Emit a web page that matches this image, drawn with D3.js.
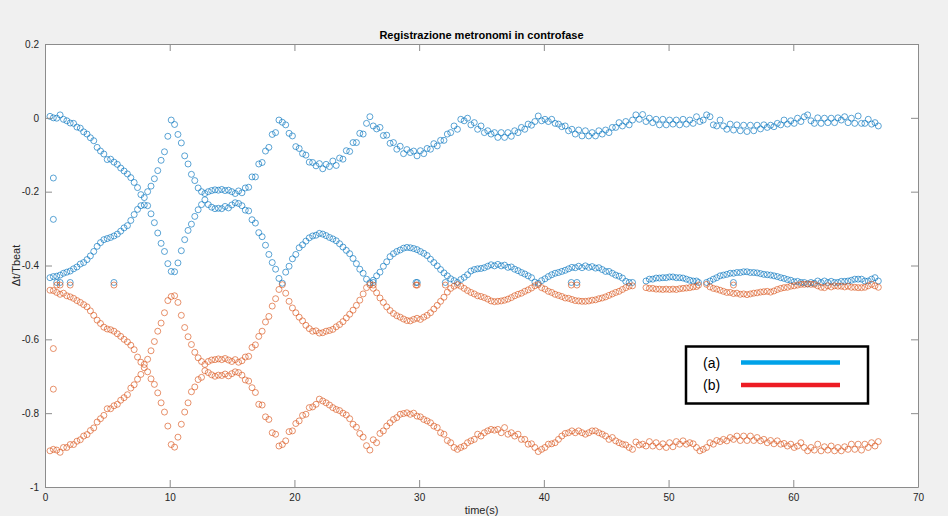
<!DOCTYPE html>
<html><head><meta charset="utf-8">
<script src="https://cdn.jsdelivr.net/npm/d3@7"></script>
<style>
body{margin:0;background:#f0f0f0;}
svg text{font-family:"Liberation Sans",Arial,Helvetica,sans-serif;}
</style>
</head><body>
<svg id="chart" width="948" height="516"></svg>
<script>
// ---- DATA ----
const chartTitle = "Registrazione metronomi in controfase";
const xLabel = "time(s)";
const yLabel = "\u0394t/Tbeat";
const xTicks = [0,10,20,30,40,50,60,70];
const yTicks = [0.2,0,-0.2,-0.4,-0.6,-0.8,-1];
const yTickLabels = ["0.2","0","-0.2","-0.4","-0.6","-0.8","-1"];
const legendLabels = ["(a)","(b)"];

const time = [
0.40,0.67,0.94,1.21,1.48,1.75,2.02,2.29,2.56,2.83,
3.10,3.37,3.64,3.91,4.18,4.45,4.72,4.99,5.26,5.53,
5.80,6.07,6.34,6.61,6.88,7.15,7.42,7.69,7.96,8.23,
8.50,8.77,9.04,9.31,9.58,9.85,10.12,10.39,10.66,10.93,
11.20,11.47,11.74,12.01,12.28,12.55,12.82,13.09,13.36,13.63,
13.90,14.17,14.44,14.71,14.98,15.25,15.52,15.79,16.06,16.33,
16.60,16.87,17.14,17.41,17.68,17.95,18.22,18.49,18.76,19.03,
19.30,19.57,19.84,20.11,20.38,20.65,20.92,21.19,21.46,21.73,
22.00,22.27,22.54,22.81,23.08,23.35,23.62,23.89,24.16,24.43,
24.70,24.97,25.24,25.51,25.78,26.05,26.32,26.59,26.86,27.13,
27.40,27.67,27.94,28.21,28.48,28.75,29.02,29.29,29.56,29.83,
30.10,30.37,30.64,30.91,31.18,31.45,31.72,31.99,32.26,32.53,
32.80,33.07,33.34,33.61,33.88,34.15,34.42,34.69,34.96,35.23,
35.50,35.77,36.04,36.31,36.58,36.85,37.12,37.39,37.66,37.93,
38.20,38.47,38.74,39.01,39.28,39.55,39.82,40.09,40.36,40.63,
40.90,41.17,41.44,41.71,41.98,42.25,42.52,42.79,43.06,43.33,
43.60,43.87,44.14,44.41,44.68,44.95,45.22,45.49,45.76,46.03,
46.30,46.57,46.84,47.11,47.38,47.65,47.92,48.19,48.46,48.73,
49.00,49.27,49.54,49.81,50.08,50.35,50.62,50.89,51.16,51.43,
51.70,51.97,52.24,52.51,52.78,53.05,53.32,53.59,53.86,54.13,
54.40,54.67,54.94,55.21,55.48,55.75,56.02,56.29,56.56,56.83,
57.10,57.37,57.64,57.91,58.18,58.45,58.72,58.99,59.26,59.53,
59.80,60.07,60.34,60.61,60.88,61.15,61.42,61.69,61.96,62.23,
62.50,62.77,63.04,63.31,63.58,63.85,64.12,64.39,64.66,64.93,
65.20,65.47,65.74,66.01,66.28,66.55,66.82];

// metronome (a), upper track
const aUpper = [
0.004,0.000,-0.001,0.008,-0.004,-0.008,-0.014,-0.015,-0.025,-0.028,
-0.038,-0.044,-0.054,-0.062,-0.080,-0.090,-0.098,-0.113,-0.112,-0.120,
-0.126,-0.136,-0.144,-0.152,-0.162,-0.175,-0.189,-0.208,-0.216,-0.200,
-0.185,-0.165,-0.143,-0.115,-0.092,-0.050,-0.006,-0.018,-0.045,-0.068,
-0.103,-0.125,-0.153,-0.170,-0.190,-0.200,-0.205,-0.200,-0.197,-0.195,
-0.196,-0.194,-0.197,-0.196,-0.200,-0.205,-0.198,-0.203,-0.190,-0.188,
-0.160,-0.160,-0.125,-0.121,-0.090,-0.080,-0.045,-0.040,-0.006,-0.012,
-0.019,-0.042,-0.049,-0.078,-0.083,-0.097,-0.101,-0.120,-0.121,-0.130,
-0.124,-0.138,-0.126,-0.132,-0.117,-0.129,-0.109,-0.112,-0.089,-0.091,
-0.067,-0.067,-0.042,-0.044,-0.015,0.003,-0.022,-0.030,-0.026,-0.048,
-0.047,-0.069,-0.067,-0.085,-0.077,-0.097,-0.086,-0.094,-0.090,-0.103,
-0.089,-0.097,-0.083,-0.085,-0.070,-0.076,-0.061,-0.061,-0.044,-0.040,
-0.022,-0.031,-0.004,-0.008,-0.001,-0.019,-0.013,-0.031,-0.022,-0.040,
-0.035,-0.044,-0.040,-0.053,-0.040,-0.053,-0.040,-0.050,-0.035,-0.040,
-0.026,-0.031,-0.017,-0.020,-0.010,0.005,-0.008,-0.004,-0.010,-0.004,
-0.015,-0.017,-0.024,-0.022,-0.035,-0.031,-0.044,-0.033,-0.049,-0.035,
-0.049,-0.040,-0.049,-0.035,-0.044,-0.033,-0.040,-0.026,-0.026,-0.013,
-0.022,-0.010,-0.019,-0.006,0.008,-0.004,0.009,-0.010,-0.001,-0.013,
-0.004,-0.019,-0.004,-0.019,-0.006,-0.017,-0.006,-0.019,-0.004,-0.017,
-0.006,-0.015,0.003,-0.010,-0.006,0.008,0.003,-0.019,-0.022,-0.006,
-0.022,-0.031,-0.017,-0.033,-0.019,-0.035,-0.020,-0.037,-0.020,-0.035,
-0.020,-0.030,-0.019,-0.026,-0.020,-0.024,-0.015,-0.019,-0.006,-0.017,
-0.008,-0.015,-0.001,-0.010,0.003,0.008,-0.008,-0.015,0.000,-0.015,
-0.001,-0.013,-0.001,-0.013,0.000,-0.006,0.003,-0.013,-0.001,-0.015,
0.005,-0.015,-0.015,-0.004,-0.017,-0.013,-0.022];

// metronome (a), lower track
const aLower = [
-0.433,-0.430,-0.429,-0.426,-0.421,-0.418,-0.415,-0.409,-0.404,-0.396,
-0.392,-0.384,-0.374,-0.362,-0.348,-0.338,-0.330,-0.327,-0.324,-0.320,
-0.315,-0.307,-0.298,-0.292,-0.278,-0.262,-0.248,-0.238,-0.236,-0.238,
-0.260,-0.284,-0.312,-0.340,-0.362,-0.395,-0.416,-0.417,-0.393,-0.360,
-0.330,-0.305,-0.288,-0.267,-0.249,-0.235,-0.222,-0.235,-0.242,-0.246,
-0.245,-0.246,-0.240,-0.244,-0.236,-0.230,-0.232,-0.238,-0.250,-0.252,
-0.276,-0.285,-0.311,-0.322,-0.345,-0.370,-0.392,-0.410,-0.435,-0.448,
-0.418,-0.402,-0.382,-0.370,-0.352,-0.344,-0.334,-0.325,-0.320,-0.318,
-0.313,-0.315,-0.319,-0.324,-0.328,-0.333,-0.341,-0.350,-0.359,-0.368,
-0.381,-0.395,-0.410,-0.421,-0.437,-0.447,-0.440,-0.428,-0.418,-0.402,
-0.390,-0.376,-0.368,-0.362,-0.358,-0.353,-0.351,-0.352,-0.354,-0.357,
-0.362,-0.367,-0.373,-0.383,-0.392,-0.401,-0.411,-0.420,-0.428,-0.436,
-0.441,-0.446,-0.438,-0.432,-0.425,-0.415,-0.411,-0.409,-0.408,-0.406,
-0.402,-0.398,-0.401,-0.397,-0.401,-0.399,-0.405,-0.404,-0.410,-0.414,
-0.419,-0.423,-0.428,-0.433,-0.445,-0.448,-0.441,-0.436,-0.430,-0.425,
-0.421,-0.419,-0.416,-0.413,-0.409,-0.405,-0.406,-0.402,-0.406,-0.401,
-0.405,-0.403,-0.407,-0.406,-0.411,-0.416,-0.416,-0.421,-0.426,-0.429,
-0.434,-0.443,-0.446,-0.446,null,null,null,-0.442,-0.437,-0.437,
-0.434,-0.434,-0.433,-0.433,-0.431,-0.431,-0.433,-0.433,-0.434,-0.437,
-0.440,-0.442,-0.442,null,null,-0.446,-0.442,-0.437,-0.433,-0.428,
-0.426,-0.424,-0.421,-0.421,-0.419,-0.419,-0.417,-0.417,-0.419,-0.419,
-0.420,-0.422,-0.424,-0.425,-0.426,-0.428,-0.430,-0.433,-0.435,-0.438,
-0.440,-0.444,-0.443,-0.446,-0.446,-0.450,-0.446,-0.448,-0.442,-0.446,
-0.442,-0.446,-0.443,-0.446,-0.446,-0.443,-0.443,-0.442,-0.440,-0.437,
-0.437,-0.437,-0.442,-0.442,-0.437,-0.433,-0.442];

// metronome (b), upper track
const bUpper = [
-0.467,-0.468,-0.473,-0.478,-0.475,-0.482,-0.485,-0.489,-0.495,-0.500,
-0.506,-0.512,-0.523,-0.535,-0.548,-0.557,-0.567,-0.572,-0.574,-0.578,
-0.585,-0.592,-0.600,-0.607,-0.616,-0.628,-0.648,-0.662,-0.668,-0.654,
-0.631,-0.606,-0.578,-0.556,-0.528,-0.495,-0.484,-0.482,-0.500,-0.535,
-0.568,-0.593,-0.614,-0.635,-0.650,-0.660,-0.668,-0.660,-0.656,-0.655,
-0.653,-0.655,-0.652,-0.656,-0.660,-0.655,-0.662,-0.658,-0.648,-0.646,
-0.622,-0.615,-0.592,-0.578,-0.553,-0.538,-0.510,-0.490,-0.465,-0.452,
-0.475,-0.497,-0.515,-0.528,-0.540,-0.550,-0.562,-0.571,-0.578,-0.577,
-0.583,-0.582,-0.578,-0.576,-0.573,-0.566,-0.560,-0.552,-0.542,-0.532,
-0.521,-0.508,-0.494,-0.477,-0.460,-0.452,-0.462,-0.474,-0.488,-0.500,
-0.512,-0.522,-0.530,-0.536,-0.540,-0.545,-0.549,-0.550,-0.546,-0.543,
-0.546,-0.540,-0.535,-0.528,-0.518,-0.508,-0.497,-0.486,-0.472,-0.462,
-0.456,-0.452,-0.456,-0.462,-0.468,-0.473,-0.477,-0.482,-0.484,-0.487,
-0.491,-0.496,-0.498,-0.497,-0.496,-0.494,-0.491,-0.487,-0.482,-0.478,
-0.475,-0.470,-0.466,-0.461,-0.455,-0.452,-0.460,-0.464,-0.470,-0.473,
-0.478,-0.481,-0.484,-0.488,-0.489,-0.492,-0.495,-0.496,-0.497,-0.497,
-0.496,-0.494,-0.493,-0.490,-0.488,-0.485,-0.481,-0.477,-0.473,-0.470,
-0.465,-0.460,-0.456,-0.455,null,null,null,-0.460,-0.462,-0.462,
-0.464,-0.464,-0.465,-0.464,-0.465,-0.464,-0.465,-0.463,-0.462,-0.461,
-0.460,-0.458,-0.457,null,null,-0.451,-0.458,-0.462,-0.464,-0.467,
-0.470,-0.473,-0.473,-0.476,-0.475,-0.478,-0.477,-0.479,-0.477,-0.475,
-0.474,-0.472,-0.471,-0.470,-0.472,-0.469,-0.465,-0.462,-0.460,-0.459,
-0.456,-0.455,-0.453,-0.451,-0.451,-0.450,-0.451,-0.451,-0.455,-0.459,
-0.460,-0.455,-0.458,-0.455,-0.456,-0.456,-0.458,-0.456,-0.459,-0.459,
-0.460,-0.460,-0.459,-0.455,-0.451,-0.455,-0.459];

// metronome (b), lower track
const bLower = [
-0.902,-0.898,-0.900,-0.906,-0.893,-0.893,-0.885,-0.885,-0.876,-0.872,
-0.862,-0.858,-0.847,-0.840,-0.824,-0.815,-0.806,-0.788,-0.788,-0.780,
-0.776,-0.765,-0.758,-0.750,-0.732,-0.723,-0.708,-0.695,-0.677,-0.688,
-0.707,-0.722,-0.745,-0.772,-0.797,-0.835,-0.885,-0.892,-0.865,-0.830,
-0.797,-0.772,-0.742,-0.729,-0.709,-0.703,-0.685,-0.690,-0.696,-0.700,
-0.697,-0.698,-0.694,-0.699,-0.693,-0.688,-0.690,-0.697,-0.710,-0.713,
-0.731,-0.744,-0.776,-0.778,-0.810,-0.817,-0.853,-0.857,-0.889,-0.885,
-0.875,-0.850,-0.848,-0.828,-0.821,-0.806,-0.803,-0.785,-0.783,-0.776,
-0.762,-0.767,-0.772,-0.778,-0.785,-0.790,-0.793,-0.800,-0.805,-0.815,
-0.830,-0.838,-0.855,-0.865,-0.888,-0.900,-0.872,-0.880,-0.855,-0.848,
-0.835,-0.826,-0.817,-0.812,-0.803,-0.801,-0.799,-0.803,-0.800,-0.808,
-0.810,-0.817,-0.821,-0.826,-0.835,-0.839,-0.853,-0.857,-0.874,-0.880,
-0.893,-0.898,-0.893,-0.889,-0.880,-0.875,-0.871,-0.857,-0.862,-0.853,
-0.848,-0.844,-0.846,-0.844,-0.853,-0.839,-0.857,-0.853,-0.862,-0.857,
-0.871,-0.871,-0.884,-0.883,-0.893,-0.904,-0.898,-0.893,-0.884,-0.883,
-0.880,-0.871,-0.862,-0.855,-0.853,-0.848,-0.853,-0.848,-0.853,-0.857,
-0.853,-0.848,-0.848,-0.853,-0.857,-0.862,-0.871,-0.866,-0.875,-0.880,
-0.884,-0.886,-0.893,-0.898,-0.878,-0.886,-0.884,-0.889,-0.877,-0.889,
-0.880,-0.891,-0.883,-0.893,-0.880,-0.891,-0.877,-0.884,-0.875,-0.884,
-0.880,-0.883,-0.893,-0.902,-0.898,-0.893,-0.880,-0.884,-0.874,-0.877,
-0.871,-0.875,-0.866,-0.871,-0.862,-0.874,-0.862,-0.874,-0.862,-0.874,
-0.866,-0.875,-0.871,-0.880,-0.874,-0.883,-0.875,-0.884,-0.882,-0.889,
-0.884,-0.893,-0.889,-0.880,-0.893,-0.902,-0.893,-0.900,-0.884,-0.902,
-0.891,-0.900,-0.889,-0.902,-0.893,-0.902,-0.891,-0.898,-0.884,-0.898,
-0.884,-0.900,-0.884,-0.893,-0.880,-0.889,-0.877];

// isolated samples
const aExtraTime = [0.67,0.67];
const aExtraValue = [-0.163,-0.275];
const bExtraTime = [0.67,0.67];
const bExtraValue = [-0.625,-0.735];
// coincident samples near -0.45
const pairTime = [0.94,1.21,2.02,5.53,26.32,29.75,29.85,32.10,42.20,42.65,52.40,55.20];
const pairA = [-0.446,-0.446,-0.446,-0.446,-0.446,-0.446,-0.446,-0.446,-0.446,-0.446,-0.446,-0.446];
const pairB = [-0.453,-0.453,-0.453,-0.453,-0.453,-0.453,-0.453,-0.453,-0.453,-0.453,-0.453,-0.453];

// ---- DRAW ----
const W = 948, H = 516;
const M = {left:45, right:918, top:44, bottom:487};
const colA = "#0072BD", colB = "#D95319";
const svg = d3.select("#chart");
svg.append("rect").attr("width",W).attr("height",H).attr("fill","#f0f0f0");
svg.append("rect").attr("x",M.left).attr("y",M.top)
  .attr("width",M.right-M.left).attr("height",M.bottom-M.top).attr("fill","#ffffff");

const x = d3.scaleLinear().domain([0,70]).range([M.left,M.right]);
const y = d3.scaleLinear().domain([-1,0.2]).range([M.bottom,M.top]);

function pts(ts, vs){ return ts.map((t,i)=>({t, v:vs[i]})).filter(d=>d.v!==null && d.v!==undefined); }

const series = [
  {data: pts(time,aUpper), c: colA},
  {data: pts(time,aLower), c: colA},
  {data: pts(aExtraTime,aExtraValue), c: colA},
  {data: pts(pairTime,pairA), c: colA},
  {data: pts(time,bUpper), c: colB},
  {data: pts(time,bLower), c: colB},
  {data: pts(bExtraTime,bExtraValue), c: colB},
  {data: pts(pairTime,pairB), c: colB}
];
const gMarks = svg.append("g");
series.forEach(s=>{
  gMarks.append("g").selectAll("circle").data(s.data).join("circle")
    .attr("cx",d=>x(d.t)).attr("cy",d=>y(d.v)).attr("r",3)
    .attr("fill","none").attr("stroke",s.c).attr("stroke-width",0.75).attr("stroke-opacity",0.85);
});

// axes
const axisColor = "#8c8c8c", labelColor = "#262626";
function styleAxis(g){
  g.selectAll(".domain").attr("stroke",axisColor);
  g.selectAll(".tick line").attr("stroke",axisColor);
  g.selectAll(".tick text").attr("fill",labelColor).style("font-size","10px")
    .style("font-family",'"Liberation Sans",Arial,sans-serif');
}
const ax = svg.append("g").attr("transform",`translate(0,${M.bottom})`)
  .call(d3.axisBottom(x).tickValues(xTicks).tickSize(-7).tickPadding(7).tickSizeOuter(0));
styleAxis(ax);
const axT = svg.append("g").attr("transform",`translate(0,${M.top})`)
  .call(d3.axisTop(x).tickValues(xTicks).tickSize(-7).tickFormat("").tickSizeOuter(0));
styleAxis(axT);
const ay = svg.append("g").attr("transform",`translate(${M.left},0)`)
  .call(d3.axisLeft(y).tickValues(yTicks).tickSize(-7).tickPadding(6).tickSizeOuter(0)
    .tickFormat((d,i)=>yTickLabels[i]));
styleAxis(ay);
const ayR = svg.append("g").attr("transform",`translate(${M.right},0)`)
  .call(d3.axisRight(y).tickValues(yTicks).tickSize(-7).tickFormat("").tickSizeOuter(0));
styleAxis(ayR);

// title and labels
svg.append("text").attr("x",(M.left+M.right)/2).attr("y",39).attr("text-anchor","middle")
  .style("font-size","11px").style("font-weight","bold").attr("fill","#000").text(chartTitle);
svg.append("text").attr("x",(M.left+M.right)/2).attr("y",514).attr("text-anchor","middle")
  .style("font-size","11px").attr("fill",labelColor).text(xLabel);
svg.append("text").attr("transform",`translate(20,${(M.top+M.bottom)/2}) rotate(-90)`)
  .attr("text-anchor","middle").style("font-size","11px").attr("fill",labelColor).text(yLabel);

// legend
const lg = svg.append("g");
lg.append("rect").attr("x",686).attr("y",346.5).attr("width",182).attr("height",57)
  .attr("fill","#fff").attr("stroke","#000").attr("stroke-width",2.5);
const legCols = ["#00A2E8","#ED1C24"];
legendLabels.forEach((lab,i)=>{
  const yy = 362.5 + i*22.5;
  lg.append("text").attr("x",703).attr("y",yy+5).style("font-size","14px").attr("fill","#000").text(lab);
  lg.append("line").attr("x1",741).attr("x2",840).attr("y1",yy).attr("y2",yy)
    .attr("stroke",legCols[i]).attr("stroke-width",4.5);
});
</script>
</body></html>
